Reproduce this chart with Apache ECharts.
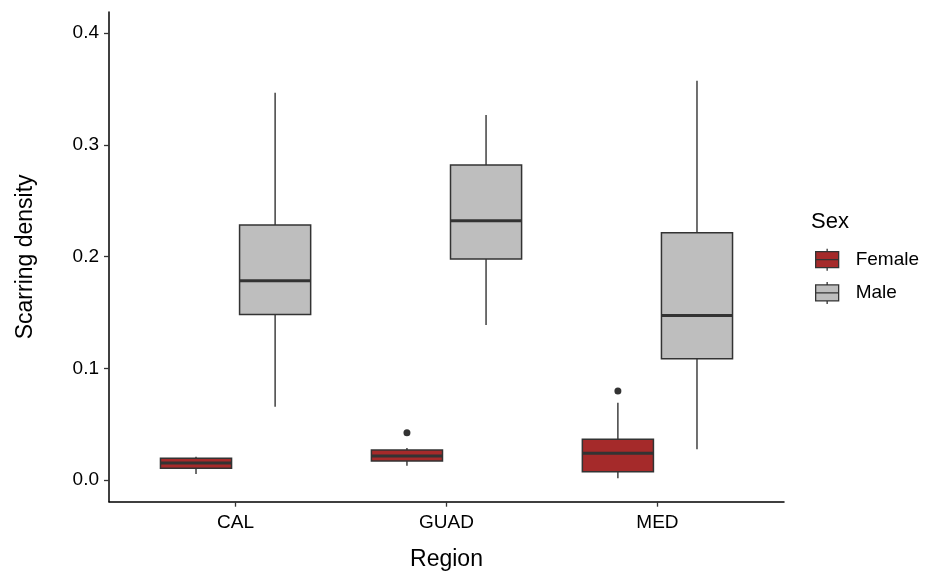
<!DOCTYPE html>
<html>
<head>
<meta charset="utf-8">
<script src="https://cdn.jsdelivr.net/npm/echarts@6/dist/echarts.min.js"></script>
<style>
  html, body { margin: 0; padding: 0; background: #fff; }
  #chart { width: 932px; height: 571px; }
</style>
</head>
<body>
<div id="chart"></div>
<script>
'use strict';

// regions sit at x = 1, 2, 3 on a value axis; boxes are dodged either side
const arrRegion = ['CAL', 'GUAD', 'MED'];
const arrRegionPos = [1, 2, 3];
const dodge = 0.1875;
const boxWidth = 0.337;

// [min, Q1, median, Q3, max] per region
const arrFemale = [
    [0.0054, 0.0105, 0.0152, 0.0194, 0.0209],
    [0.0128, 0.0170, 0.0215, 0.0269, 0.0286],
    [0.0015, 0.0074, 0.0239, 0.0364, 0.0692]
];
const arrMale = [
    [0.0656, 0.1483, 0.1784, 0.2283, 0.3466],
    [0.1388, 0.1979, 0.2321, 0.2820, 0.3268],
    [0.0275, 0.1086, 0.1474, 0.2214, 0.3575]
];
// outliers: [region index, value] (female only)
const arrFemaleOutlier = [[1, 0.0424], [2, 0.0797]];

const arrYTicks = [0, 0.1, 0.2, 0.3, 0.4];

const colFemale = '#A52A2A';
const colMale = '#BEBEBE';
const colLine = '#333333';

const chart = echarts.init(document.getElementById('chart'));

const makeData = (arr, shift) => arr.map((v, i) => [arrRegionPos[i] + shift].concat(v));

const renderBox = (params, api) => {
    const x = api.value(0);
    const pMin = api.coord([x, api.value(1)]);
    const pQ1 = api.coord([x, api.value(2)]);
    const pMed = api.coord([x, api.value(3)]);
    const pQ3 = api.coord([x, api.value(4)]);
    const pMax = api.coord([x, api.value(5)]);
    const w = api.size([boxWidth, 0])[0];
    const fill = api.visual('color');
    return {
        type: 'group',
        children: [
            { type: 'line', shape: { x1: pMin[0], y1: pMin[1], x2: pQ1[0], y2: pQ1[1] },
              style: { stroke: colLine, lineWidth: 1.4 } },
            { type: 'line', shape: { x1: pQ3[0], y1: pQ3[1], x2: pMax[0], y2: pMax[1] },
              style: { stroke: colLine, lineWidth: 1.4 } },
            { type: 'rect', shape: { x: pQ1[0] - w / 2, y: pQ3[1], width: w, height: pQ1[1] - pQ3[1] },
              style: { fill: fill, stroke: colLine, lineWidth: 1.5 } },
            { type: 'line', shape: { x1: pMed[0] - w / 2, y1: pMed[1], x2: pMed[0] + w / 2, y2: pMed[1] },
              style: { stroke: colLine, lineWidth: 3 } }
        ]
    };
};

// legend key like ggplot's boxplot glyph
const iconBox = 'path://M0,3L0,19L23,19L23,3ZM0,11L23,11M11.5,0L11.5,3M11.5,19L11.5,22';

const option = {
    animation: false,
    backgroundColor: '#fff',
    textStyle: { fontFamily: 'Liberation Sans, Arial, sans-serif' },
    title: {
        text: 'Sex',
        left: 811,
        top: 211,
        textStyle: { fontSize: 22, fontWeight: 'normal', color: '#000' },
        padding: 0
    },
    legend: {
        data: ['Female', 'Male'],
        orient: 'vertical',
        left: 815,
        top: 248,
        itemWidth: 23,
        itemHeight: 22,
        itemGap: 10,
        padding: 0,
        icon: iconBox,
        textStyle: { fontSize: 19, color: '#000', padding: [0, 0, 0, 12] },
        itemStyle: { borderColor: colLine, borderWidth: 1.3 }
    },
    grid: {
        left: 109,
        right: 148,
        top: 12,
        bottom: 69.3,
        outerBoundsMode: 'none'
    },
    xAxis: {
        type: 'value',
        min: 0.4,
        max: 3.6,
        name: 'Region',
        nameLocation: 'middle',
        nameGap: 46,
        nameTextStyle: { fontSize: 23, color: '#000' },
        splitLine: { show: false },
        axisLine: { show: true, onZero: false, lineStyle: { color: '#000', width: 1.5 } },
        axisTick: { show: true, length: 5, customValues: arrRegionPos, lineStyle: { color: colLine, width: 1.3 } },
        axisLabel: {
            customValues: arrRegionPos,
            margin: 12,
            fontSize: 19,
            color: '#000',
            formatter: v => arrRegion[Math.round(v) - 1] || ''
        }
    },
    yAxis: {
        type: 'value',
        min: -0.0194,
        max: 0.419,
        name: 'Scarring density',
        nameLocation: 'middle',
        nameGap: 72,
        nameTextStyle: { fontSize: 23, color: '#000' },
        splitLine: { show: false },
        axisLine: { show: true, onZero: false, lineStyle: { color: '#000', width: 1.5 } },
        axisTick: { show: true, length: 5, customValues: arrYTicks, lineStyle: { color: colLine, width: 1.3 } },
        axisLabel: {
            customValues: arrYTicks,
            margin: 10,
            fontSize: 19,
            color: '#000',
            formatter: v => v.toFixed(1)
        }
    },
    series: [{
        name: 'Female',
        type: 'custom',
        renderItem: renderBox,
        itemStyle: { color: colFemale, borderColor: colLine, borderWidth: 1.3 },
        encode: { x: 0, y: [1, 2, 3, 4, 5] },
        data: makeData(arrFemale, -dodge)
    }, {
        name: 'Male',
        type: 'custom',
        renderItem: renderBox,
        itemStyle: { color: colMale, borderColor: colLine, borderWidth: 1.3 },
        encode: { x: 0, y: [1, 2, 3, 4, 5] },
        data: makeData(arrMale, dodge)
    }, {
        name: 'outlier',
        type: 'scatter',
        symbol: 'circle',
        symbolSize: 7,
        itemStyle: { color: colLine, opacity: 1 },
        data: arrFemaleOutlier.map(o => [arrRegionPos[o[0]] - dodge, o[1]])
    }]
};

chart.setOption(option);
</script>
</body>
</html>
